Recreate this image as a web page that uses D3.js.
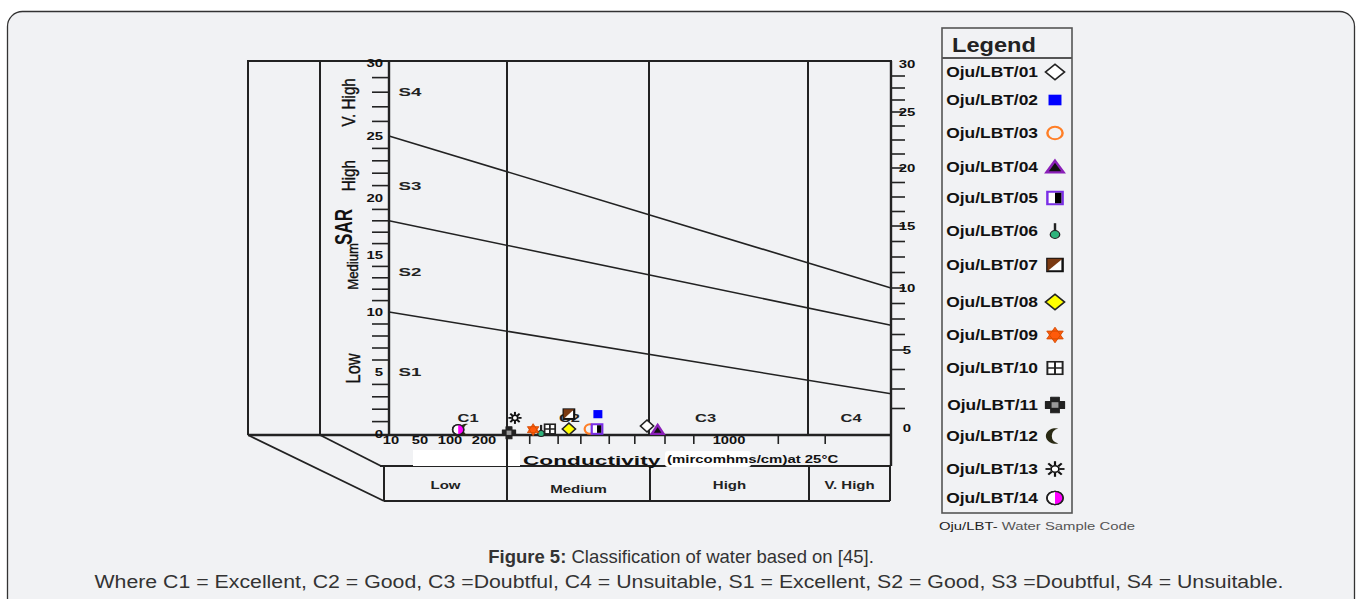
<!DOCTYPE html>
<html><head><meta charset="utf-8">
<script src="https://cdn.jsdelivr.net/npm/d3@7/dist/d3.min.js"></script>
<style>body{margin:0;background:#fff;} svg{display:block}</style>
</head><body>
<svg id="c" width="1362" height="599"></svg>
<script>
// ---------------- DATA ----------------
const sampleCodes = ["Oju/LBT/01","Oju/LBT/02","Oju/LBT/03","Oju/LBT/04","Oju/LBT/05","Oju/LBT/06","Oju/LBT/07",
                     "Oju/LBT/08","Oju/LBT/09","Oju/LBT/10","Oju/LBT/11","Oju/LBT/12","Oju/LBT/13","Oju/LBT/14"];
const conductivity = [743, 570, 542, 777, 567, 370, 468, 468, 342, 401, 257, 147, 278, 124]; // µS/cm at 25°C
const sar          = [0.65, 1.6, 0.4, 0.35, 0.4, 0.25, 1.6, 0.4, 0.35, 0.4, 0.1, 0.35, 1.3, 0.35];
const salinityClasses = ["C1","C2","C3","C4"];
const salinityClassAnchorEC = [153, 470, 927, 3675];
const salinityHazard = ["Low","Medium","High","V. High"];
const salinityBounds = [250, 750, 2250];
const sodiumClasses = ["S1","S2","S3","S4"];
const sodiumClassAnchorSAR = [5, 13.5, 21, 28];
const sodiumHazard = ["Low","Medium","High","V. High"];
const sodiumHazardAnchorSAR = [5.3, 14, 21.8, 27.3];
const boundaryLeftSAR  = [10, 18, 25];
const boundaryRightSAR = [2.2, 7, 10];
const ecTickLabels = [10, 50, 100, 200, 1000];
const ecMinorTicks = [330, 430, 510, 610, 700, 800, 890, 1780, 2820];
const sarTickLabels = [0, 5, 10, 15, 20, 25, 30];
const legendTitle = "Legend";
const legendNote = ["Oju/LBT-", " Water Sample Code"];
const captionBold = "Figure 5:";
const captionText = " Classification of water based on [45].";
const captionLine2 = "Where C1 = Excellent, C2 = Good, C3 =Doubtful, C4 = Unsuitable, S1 = Excellent, S2 = Good, S3 =Doubtful, S4 = Unsuitable.";

// ---------------- STYLES ----------------
const markerTypes = ["diamondW","square","circle","triangle","halfsquare","lollipop","diagsquare",
                     "diamondY","star6","grid","cross","crescent","sun","halfcircle"];
const FONT = "'Liberation Sans', Arial, sans-serif";
const INK = "#222";

const svg = d3.select("#c");
svg.append("rect").attr("width",1362).attr("height",599).attr("fill","#fff");
svg.append("rect").attr("x",7.5).attr("y",11.5).attr("width",1347).attr("height",620).attr("rx",15)
   .attr("fill","#f1f2f4").attr("stroke","#333").attr("stroke-width",1.3);

// ---------------- SCALES ----------------
const plotLeft = 389, plotRight = 891, plotTop = 61, base = 435;
const x = d3.scaleLinear().domain([10,50,100,200,250,750,1000,2250,5000])
            .range([389,420,450,484,507,649,729,808,891]);
const yL = d3.scaleLinear().domain(sarTickLabels).range([434,372,312,255,198,136,63]);
const yR = d3.scaleLinear().domain(sarTickLabels).range([428,350,288,226,168,112,64]);

function txt(p, xx, yy, s, o={}) {
  const t = p.append("text")
    .attr("transform", `translate(${xx},${yy}) rotate(${o.rot||0}) scale(${o.sx||1},1)`)
    .attr("font-family", FONT).attr("font-size", o.size||11)
    .attr("font-weight", o.weight||"bold").attr("text-anchor", o.anchor||"middle")
    .attr("fill", o.fill||INK).text(s);
  return t;
}
function line(p, x1,y1,x2,y2,w=2,c=INK){
  p.append("line").attr("x1",x1).attr("y1",y1).attr("x2",x2).attr("y2",y2)
   .attr("stroke",c).attr("stroke-width",w);
}

const g = svg.append("g");

// frame / pseudo-3D box
line(g, 247, plotTop, plotRight+1, plotTop, 2.2);
line(g, 248, plotTop, 248, base, 2);
line(g, 320, plotTop, 320, base, 2);
line(g, plotLeft, plotTop, plotLeft, base, 2.4);
line(g, plotRight, plotTop, plotRight, 466, 2.4);
line(g, 248, base, plotRight, base, 2.4);
line(g, 248, base, 384, 501, 1.8);
line(g, 320, base, 381, 466, 1.8);
line(g, 380, 466, plotRight, 466, 2);
line(g, 384, 466, 384, 501, 2);
line(g, 384, 501, 890, 501, 2);
line(g, 890, 466, 890, 501, 2);

// white label patches
g.append("rect").attr("x",413).attr("y",450).attr("width",107).attr("height",16).attr("fill","#fff");
g.append("rect").attr("x",665).attr("y",451).attr("width",86).attr("height",16).attr("rx",3).attr("fill","#fff");

// salinity class boundaries
salinityBounds.forEach((b,i)=>{
  line(g, x(b), plotTop, x(b), i===0 ? 501 : base, 2);
  if (i>0) line(g, x(b)+1, 466, x(b)+1, 501, 2);
});

// sodium hazard boundary lines
boundaryLeftSAR.forEach((v,i)=>{
  line(g, plotLeft, yL(v), plotRight, yR(boundaryRightSAR[i]), 1.6);
});

// left SAR axis ticks & labels
d3.range(1,30).filter(v=>v%5!==0).forEach(v=>{
  line(g, 372, yL(v), plotLeft, yL(v), 1.6);
});
sarTickLabels.forEach(v=>{
  txt(g, 383, yL(v)+4, String(v), {anchor:"end", size:11.5, sx:1.3, fill:"#111"});
});
// right SAR axis
d3.range(1.25, 30, 1.25).forEach(v=>{
  line(g, plotRight, yR(v), plotRight+14, yR(v), 1.6);
});
sarTickLabels.forEach(v=>{
  txt(g, 907, yR(v)+4, String(v), {size:11.5, sx:1.3, fill:"#111"});
});

// conductivity ticks & labels
ecMinorTicks.forEach(v=> line(g, x(v), base, x(v), base+9, 1.6));
ecTickLabels.forEach(v=> txt(g, x(v) + (v===10?2:0), base+9, String(v), {size:10.5, sx:1.4, fill:"#111"}));

// axis titles
txt(g, 523, 465, "Conductivity", {anchor:"start", size:13.5, sx:1.68, fill:"#111"});
txt(g, 667, 463, "(mircomhms/cm)at 25°C", {anchor:"start", size:11.5, sx:1.3, fill:"#111"});
txt(g, 352, 227, "SAR", {rot:-90, size:23, sx:0.74, fill:"#111"});
// sodium hazard words (rotated)
const hzStyle = [{size:19.5, sx:0.84, bx:360},{size:15, sx:0.88, bx:358},
                 {size:19, sx:0.8, bx:355},{size:19, sx:0.8, bx:355}];
sodiumHazard.forEach((h,i)=>{
  txt(g, hzStyle[i].bx, yL(sodiumHazardAnchorSAR[i]), h, {rot:-90, size:hzStyle[i].size, sx:hzStyle[i].sx, weight:"normal", fill:"#111"})
    .attr("stroke","#111").attr("stroke-width",0.4);
});
// salinity hazard words (bottom box)
const boxEdges = [384, x(250), x(750)+1, x(2250)+1, 890];
salinityHazard.forEach((h,i)=>{
  txt(g, (boxEdges[i]+boxEdges[i+1])/2, i===1?493:489, h, {size:10, sx:1.5});
});

// class labels
sodiumClasses.forEach((s,i)=> txt(g, 410, yL(sodiumClassAnchorSAR[i])+4, s, {size:11, sx:1.7}));
salinityClasses.forEach((s,i)=> txt(g, x(salinityClassAnchorEC[i]), 422, s, {size:11, sx:1.5}));

// ---------------- MARKERS ----------------
function drawMarker(p, type, r) {
  const a = r*0.8;
  switch(type){
    case "diamondW":
    case "diamondY":
      p.append("path").attr("d",`M0,${-r}L${r},0L0,${r}L${-r},0Z`)
       .attr("fill", type==="diamondW"?"#fff":"#ffff00").attr("stroke","#222").attr("stroke-width",1.5); break;
    case "square":
      p.append("rect").attr("x",-a*0.85).attr("y",-a*0.85).attr("width",a*1.7).attr("height",a*1.7).attr("fill","#0000ff"); break;
    case "circle":
      p.append("circle").attr("r",r*0.8).attr("fill","none").attr("stroke","#ff7f27").attr("stroke-width",2); break;
    case "triangle":
      p.append("path").attr("d",`M0,${-r*0.8}L${r*0.9},${r*0.7}L${-r*0.9},${r*0.7}Z`)
       .attr("fill","#111").attr("stroke","#8a1fb8").attr("stroke-width",2.2); break;
    case "halfsquare":
      p.append("rect").attr("x",-a).attr("y",-a).attr("width",2*a).attr("height",2*a)
       .attr("fill","#fff").attr("stroke","#7a2ee6").attr("stroke-width",2);
      p.append("rect").attr("x",0).attr("y",-a+1).attr("width",a-1).attr("height",2*a-2).attr("fill","#000"); break;
    case "lollipop":
      p.append("line").attr("x1",0).attr("y1",-r).attr("x2",0).attr("y2",0).attr("stroke","#222").attr("stroke-width",2);
      p.append("circle").attr("cy",r*0.45).attr("r",r*0.5).attr("fill","#2fb37c").attr("stroke","#222").attr("stroke-width",1); break;
    case "diagsquare":
      p.append("rect").attr("x",-a).attr("y",-a).attr("width",2*a).attr("height",2*a)
       .attr("fill","#fff").attr("stroke","#111").attr("stroke-width",2);
      p.append("path").attr("d",`M${-a},${-a}L${a},${-a}L${-a},${a}Z`).attr("fill","#7b3a12"); break;
    case "star6":
      p.append("path").attr("d",`M0,${-r}L${r*0.866},${r*0.5}L${-r*0.866},${r*0.5}Z M0,${r}L${-r*0.866},${-r*0.5}L${r*0.866},${-r*0.5}Z`)
       .attr("fill","#ff5a0a").attr("stroke","#d24a00").attr("stroke-width",0.8); break;
    case "grid":
      p.append("rect").attr("x",-a).attr("y",-a).attr("width",2*a).attr("height",2*a)
       .attr("fill","#fff").attr("stroke","#222").attr("stroke-width",1.6);
      p.append("path").attr("d",`M0,${-a}V${a}M${-a},0H${a}`).attr("stroke","#222").attr("stroke-width",1.6); break;
    case "cross": {
      const w = r*0.45;
      p.append("path").attr("d",`M${-w},${-r}H${w}V${-w}H${r}V${w}H${w}V${r}H${-w}V${w}H${-r}V${-w}H${-w}Z`)
       .attr("fill","#222").attr("stroke","#222").attr("stroke-width",1).attr("stroke-linejoin","round");
      p.append("rect").attr("x",-w*0.8).attr("y",-w*0.8).attr("width",w*1.6).attr("height",w*1.6).attr("fill","#9a9a9a"); break; }
    case "crescent": {
      const R = r;
      p.append("path").attr("d",`M${0.35*R},${-0.95*R}A${R},${R} 0 1 0 ${0.35*R},${0.95*R}A${R},${R} 0 0 1 ${0.35*R},${-0.95*R}Z`)
       .attr("fill","#2a2a14"); break; }
    case "sun":
      d3.range(8).forEach(k=>{
        const t = k*Math.PI/4;
        p.append("line").attr("x1",Math.cos(t)*r*0.5).attr("y1",Math.sin(t)*r*0.5)
         .attr("x2",Math.cos(t)*r).attr("y2",Math.sin(t)*r).attr("stroke","#111").attr("stroke-width",1.8);
      });
      p.append("circle").attr("r",r*0.42).attr("fill","#fff").attr("stroke","#111").attr("stroke-width",1.5); break;
    case "halfcircle":
      p.append("circle").attr("r",r*0.85).attr("fill","#fff").attr("stroke","#222").attr("stroke-width",1.3);
      p.append("path").attr("d",`M0,${-r*0.85}A${r*0.85},${r*0.85} 0 0 1 0,${r*0.85}Z`).attr("fill","#ff00ff");
      p.append("circle").attr("r",r*0.85).attr("fill","none").attr("stroke","#222").attr("stroke-width",1.3); break;
  }
}

// plotted samples
const pts = g.append("g");
sampleCodes.forEach((c,i)=>{
  const m = pts.append("g").attr("transform",`translate(${x(conductivity[i])},${yL(sar[i])}) scale(1.1,1)`);
  drawMarker(m, markerTypes[i], 6);
});

// ---------------- LEGEND ----------------
const lg = svg.append("g");
lg.append("rect").attr("x",942).attr("y",28).attr("width",130).attr("height",485)
  .attr("fill","none").attr("stroke","#555").attr("stroke-width",1.6);
line(lg, 942, 58, 1072, 58, 2, "#555");
txt(lg, 994, 52, legendTitle, {size:20, sx:1.18, fill:"#222"});
const legendY = [72,100,133,167,198,231,265,302,335,368,405,436,469,498];
sampleCodes.forEach((c,i)=>{
  txt(lg, 1038, legendY[i]+5, c, {anchor:"end", size:14.5, sx:1.2, fill:"#111"});
  const m = lg.append("g").attr("transform",`translate(1055,${legendY[i]}) scale(1.22,1)`);
  drawMarker(m, markerTypes[i], 7.8);
});
const note = svg.append("text").attr("x",939).attr("y",530).attr("font-family",FONT).attr("font-size",11.5)
  .attr("textLength",196).attr("lengthAdjust","spacingAndGlyphs");
note.append("tspan").attr("fill","#222").text(legendNote[0]);
note.append("tspan").attr("fill","#555").text(legendNote[1]);

// ---------------- CAPTION ----------------
const cap = svg.append("text").attr("x",681).attr("y",563).attr("text-anchor","middle")
  .attr("font-family",FONT).attr("font-size",18.5).attr("fill","#333");
cap.append("tspan").attr("font-weight","bold").text(captionBold);
cap.append("tspan").text(captionText);
svg.append("text").attr("x",689).attr("y",588).attr("text-anchor","middle")
  .attr("font-family",FONT).attr("font-size",17.5).attr("fill","#333")
  .attr("textLength",1189).attr("lengthAdjust","spacingAndGlyphs").text(captionLine2);
</script>
</body></html>
